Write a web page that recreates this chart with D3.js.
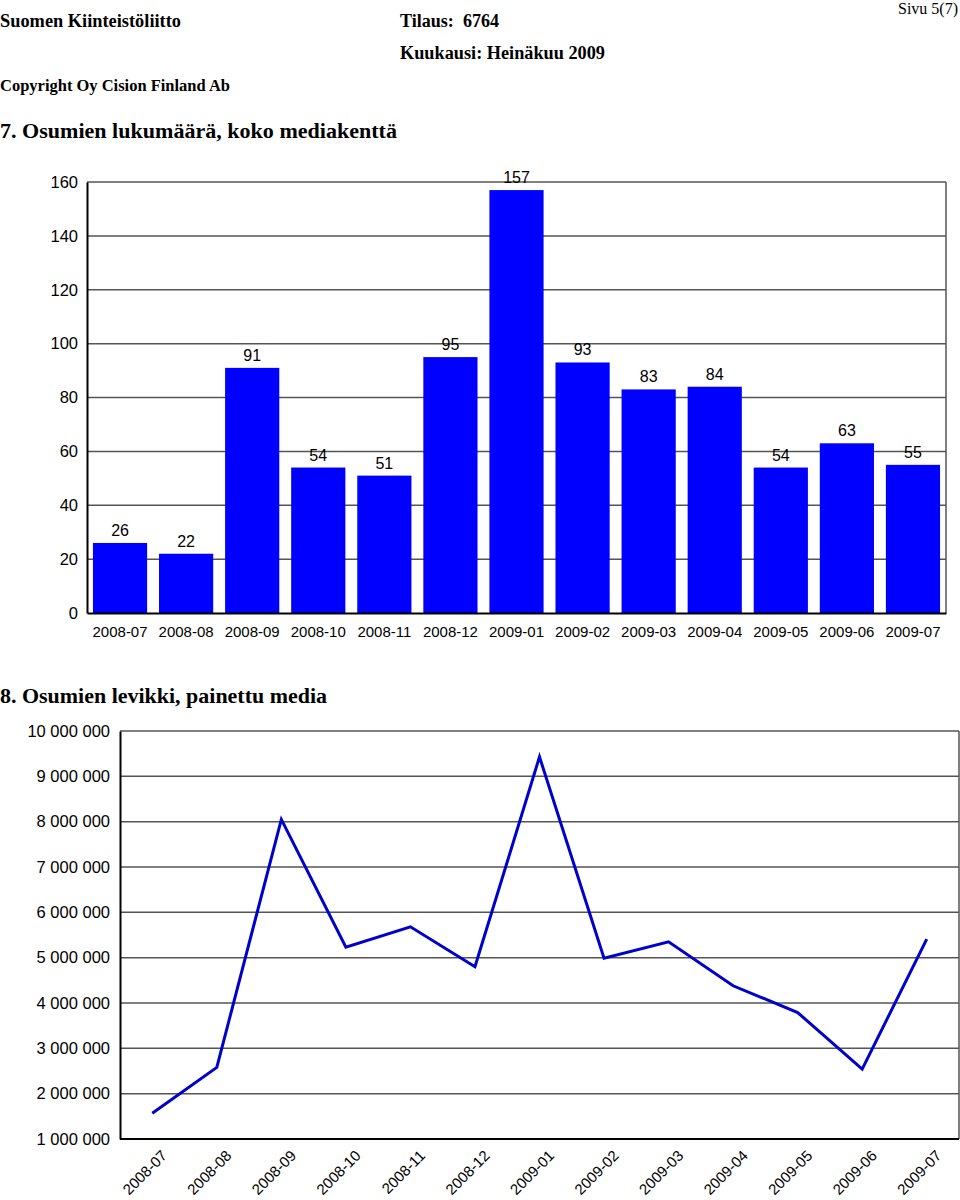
<!DOCTYPE html>
<html>
<head>
<meta charset="utf-8">
<script src="https://cdn.jsdelivr.net/npm/d3@7"></script>
<style>
  html, body { margin: 0; padding: 0; background: #fff; }
  svg { display: block; }
</style>
</head>
<body>
<svg id="chart" width="960" height="1200"></svg>
<script>
const months = ["2008-07","2008-08","2008-09","2008-10","2008-11","2008-12","2009-01","2009-02","2009-03","2009-04","2009-05","2009-06","2009-07"];
const hitCounts = [26, 22, 91, 54, 51, 95, 157, 93, 83, 84, 54, 63, 55];
const circulation = [1570000, 2580000, 8050000, 5230000, 5680000, 4800000, 9430000, 4990000, 5350000, 4380000, 3790000, 2540000, 5410000];
const barTicks = [0, 20, 40, 60, 80, 100, 120, 140, 160];
const lineTicks = [1000000, 2000000, 3000000, 4000000, 5000000, 6000000, 7000000, 8000000, 9000000, 10000000];

const svg = d3.select("#chart");
const serif = "'Liberation Serif', 'Times New Roman', serif";
const sans = "'Liberation Sans', Arial, sans-serif";

// Header
const hdr = [
  {t: "Suomen Kiinteistöliitto", x: 0, y: 27, w: "bold", a: "start", s: 18, len: 181},
  {t: "Tilaus:  6764", x: 400, y: 27, w: "bold", a: "start", s: 18, len: 99},
  {t: "Kuukausi: Heinäkuu 2009", x: 400, y: 59, w: "bold", a: "start", s: 18, len: 205},
  {t: "Copyright Oy Cision Finland Ab", x: 0, y: 91, w: "bold", a: "start", s: 17, len: 230},
  {t: "Sivu 5(7)", x: 958, y: 14, w: "normal", a: "end", s: 16, len: null},
  {t: "7. Osumien lukumäärä, koko mediakenttä", x: 0, y: 138, w: "bold", a: "start", s: 22, len: 397},
  {t: "8. Osumien levikki, painettu media", x: 0, y: 703, w: "bold", a: "start", s: 22, len: 327}
];
svg.selectAll("text.hdr").data(hdr).join("text")
  .attr("class", "hdr")
  .attr("x", d => d.x).attr("y", d => d.y)
  .attr("text-anchor", d => d.a)
  .attr("textLength", d => d.len)
  .attr("lengthAdjust", "spacingAndGlyphs")
  .style("font-family", serif).style("font-size", d => d.s + "px").style("font-weight", d => d.w)
  .style("white-space", "pre")
  .text(d => d.t);

// ---------- Bar chart ----------
const b = {l: 87, r: 946, t: 182, b: 613};
const xb = d3.scaleBand().domain(months).range([b.l, b.r]).paddingInner(0.18).paddingOuter(0.09);
const yb = d3.scaleLinear().domain([0, 160]).range([b.b, b.t]);

const gb = svg.append("g");
gb.selectAll("line.grid").data(barTicks.filter(d => d > 0)).join("line")
  .attr("x1", b.l).attr("x2", b.r)
  .attr("y1", d => yb(d)).attr("y2", d => yb(d))
  .attr("stroke", "#555").attr("stroke-width", 1.5);
gb.append("line").attr("x1", b.r).attr("x2", b.r).attr("y1", b.t).attr("y2", b.b)
  .attr("stroke", "#555").attr("stroke-width", 1.5);

gb.selectAll("rect.bar").data(hitCounts).join("rect")
  .attr("x", (d, i) => xb(months[i]))
  .attr("width", xb.bandwidth())
  .attr("y", d => yb(d))
  .attr("height", d => yb(0) - yb(d))
  .attr("fill", "#0000ff");

gb.selectAll("text.val").data(hitCounts).join("text")
  .attr("x", (d, i) => xb(months[i]) + xb.bandwidth() / 2)
  .attr("y", d => yb(d) - 7)
  .attr("text-anchor", "middle")
  .style("font-family", sans).style("font-size", "16px")
  .text(d => d);

const yAxisB = d3.axisLeft(yb).tickValues(barTicks).tickSize(0).tickPadding(9);
gb.append("g").attr("transform", `translate(${b.l},0)`).call(yAxisB)
  .call(g => g.select(".domain").attr("stroke", "#000").attr("stroke-width", 2))
  .call(g => g.selectAll("text").style("font-family", sans).style("font-size", "16.5px").attr("fill", "#000"));

const xAxisB = d3.axisBottom(xb).tickSize(0).tickPadding(13);
gb.append("g").attr("transform", `translate(0,${b.b})`).call(xAxisB)
  .call(g => g.select(".domain").attr("stroke", "#000").attr("stroke-width", 2))
  .call(g => g.selectAll("text").style("font-family", sans).style("font-size", "15px").attr("fill", "#000"));

// ---------- Line chart ----------
const c = {l: 120, r: 959, t: 731, b: 1139};
const xl = d3.scalePoint().domain(months).range([c.l, c.r]).padding(0.5);
const yl = d3.scaleLinear().domain([1000000, 10000000]).range([c.b, c.t]);

const gl = svg.append("g");
gl.selectAll("line.grid").data(lineTicks.filter(d => d > 1000000)).join("line")
  .attr("x1", c.l).attr("x2", c.r)
  .attr("y1", d => yl(d)).attr("y2", d => yl(d))
  .attr("stroke", "#555").attr("stroke-width", 1.5);
gl.append("line").attr("x1", c.r).attr("x2", c.r).attr("y1", c.t).attr("y2", c.b)
  .attr("stroke", "#555").attr("stroke-width", 1.5);

const fmt = v => d3.format(",")(v).replace(/,/g, " ");
const yAxisL = d3.axisLeft(yl).tickValues(lineTicks).tickSize(0).tickPadding(10).tickFormat(fmt);
gl.append("g").attr("transform", `translate(${c.l},0)`).call(yAxisL)
  .call(g => g.select(".domain").attr("stroke", "#000").attr("stroke-width", 2))
  .call(g => g.selectAll("text").style("font-family", sans).style("font-size", "16.5px").attr("fill", "#000"));

gl.append("line").attr("x1", c.l).attr("x2", c.r).attr("y1", c.b).attr("y2", c.b)
  .attr("stroke", "#000").attr("stroke-width", 2);

const line = d3.line().x((d, i) => xl(months[i])).y(d => yl(d));
gl.append("path").datum(circulation)
  .attr("d", line).attr("fill", "none")
  .attr("stroke", "#0000cc").attr("stroke-width", 3).attr("stroke-linejoin", "miter");

gl.selectAll("text.xl").data(months).join("text")
  .attr("transform", d => `translate(${xl(d) + 12},${c.b + 14}) rotate(-45)`)
  .attr("text-anchor", "end")
  .attr("dy", "0.35em")
  .style("font-family", sans).style("font-size", "15px")
  .text(d => d);
</script>
</body>
</html>
